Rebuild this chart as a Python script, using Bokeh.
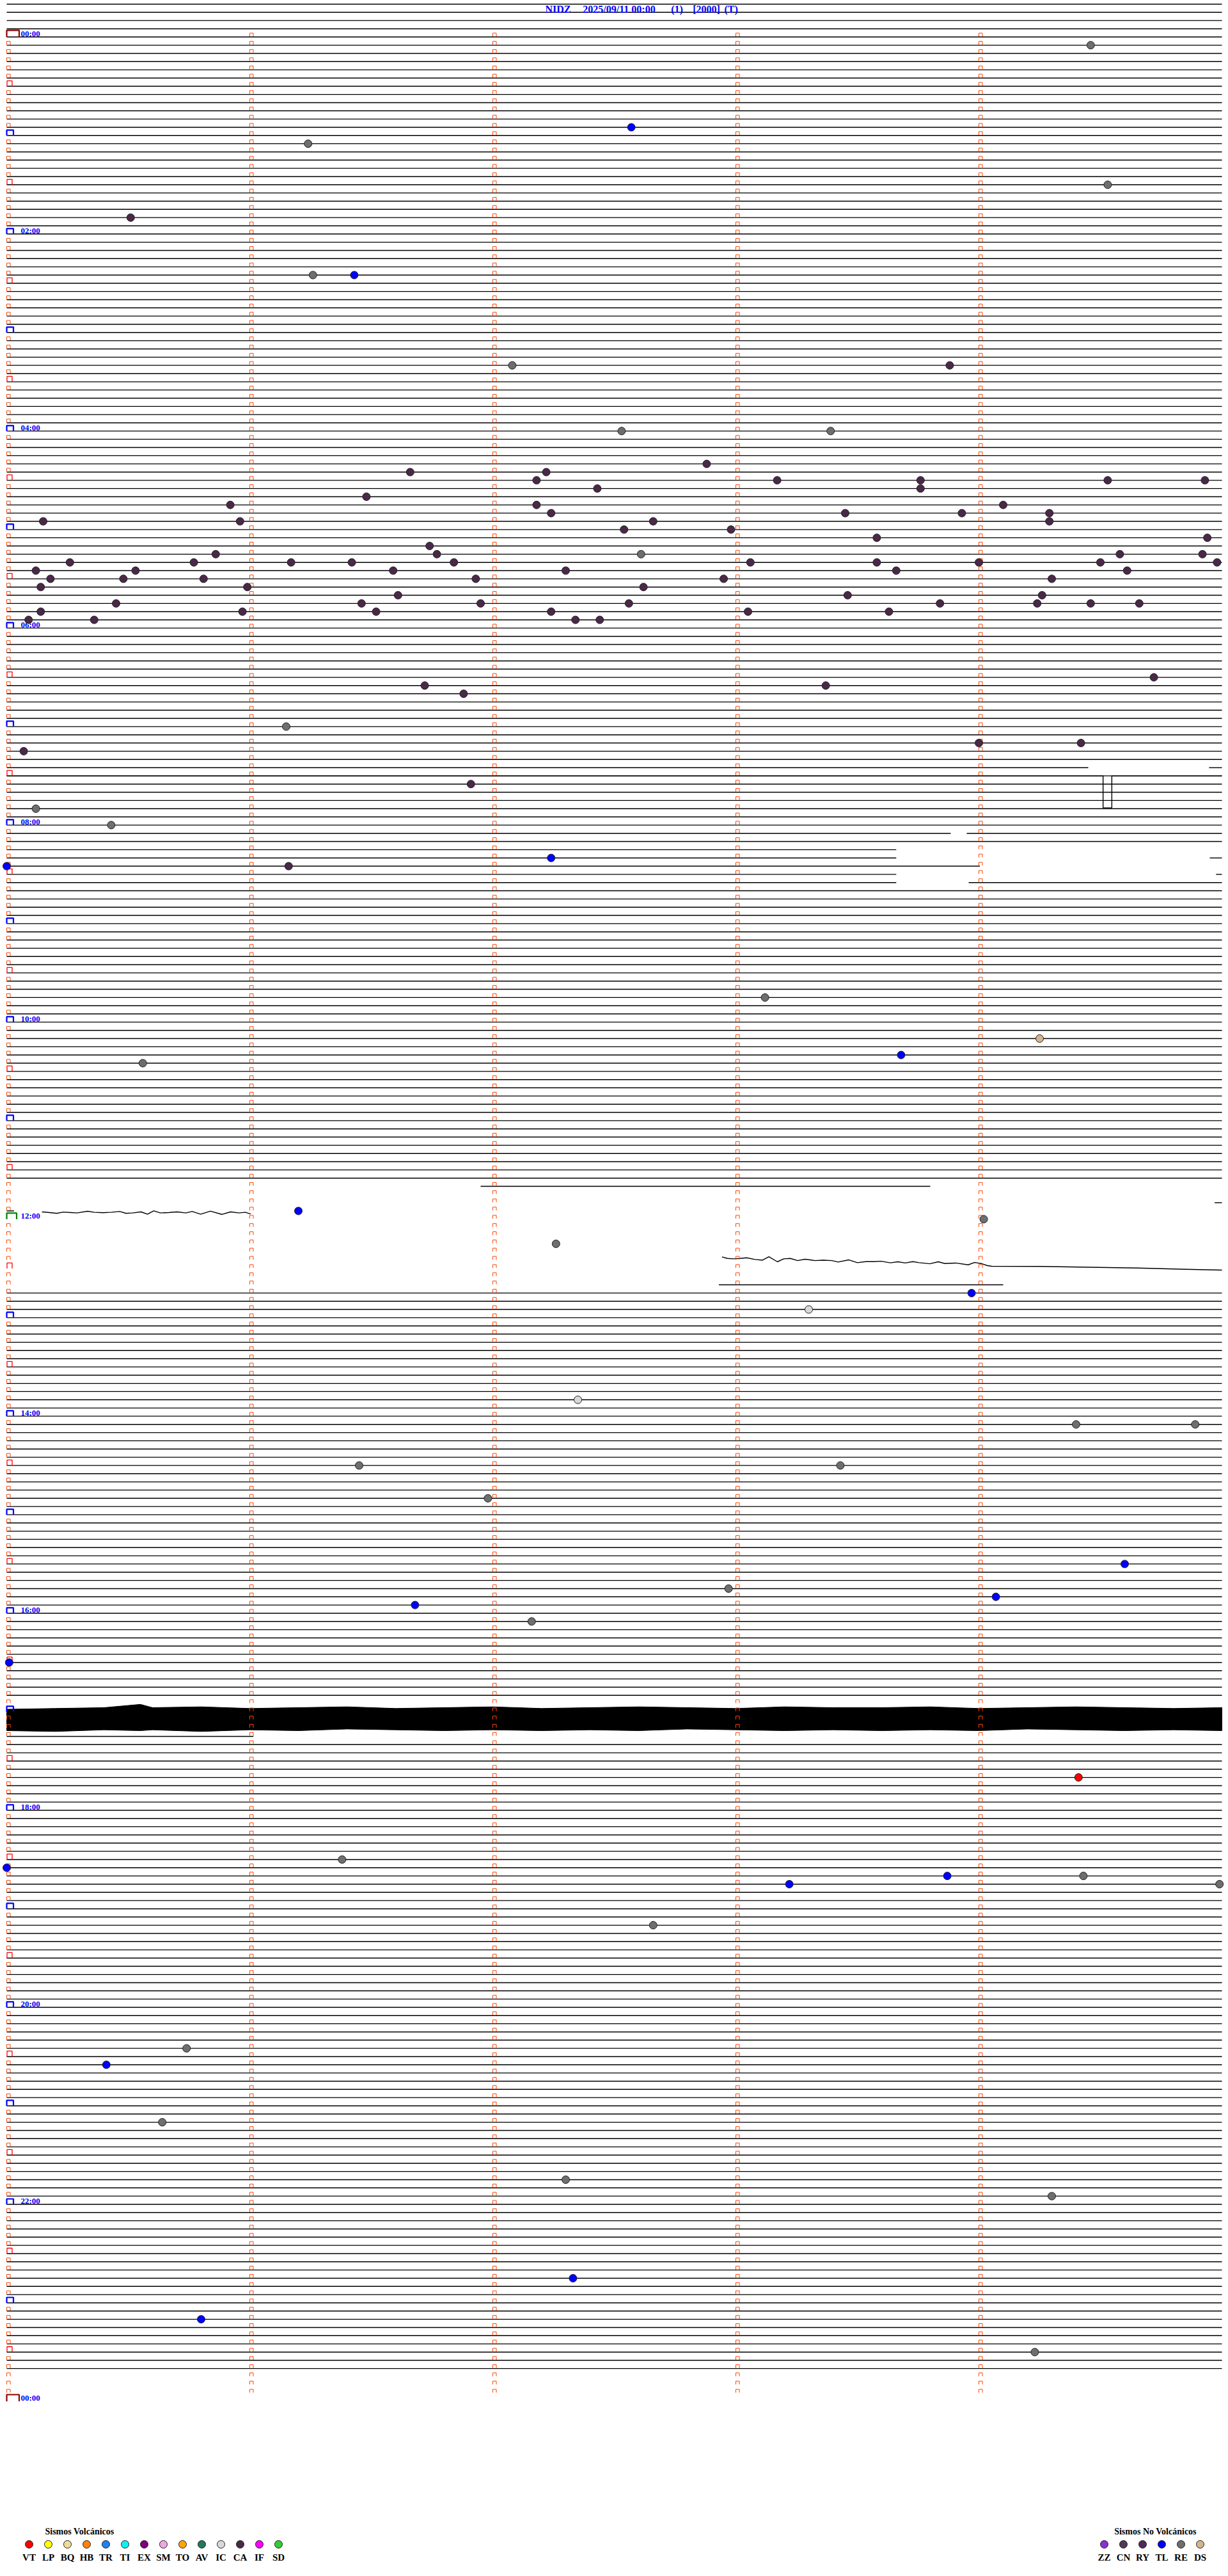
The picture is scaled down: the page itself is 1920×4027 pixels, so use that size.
import numpy as np
from bokeh.plotting import figure
from bokeh.models import Range1d, ColumnDataSource
from bokeh.embed import file_html
from bokeh.resources import INLINE
from bokeh.core.properties import value

# ---------------- data ----------------
title_parts = ["NIDZ", "2025/09/11 00:00", "(1)", "[2000]", "(T)"]
hour_labels = ["00:00", "02:00", "04:00", "06:00", "08:00", "10:00", "12:00",
               "14:00", "16:00", "18:00", "20:00", "22:00", "00:00"]

# trace rows (5-minute lines) that are drawn
trace_first_row, trace_last_row = -4, 284
# rows whose trace is only partly present: row -> [(start_min, end_min), ...]
trace_segments = {
    89: [(0.0, 4.45), (4.947, 5.0)],
    97: [(0.0, 3.884), (3.95, 5.0)],
    99: [(0.0, 3.66)],
    100: [(0.0, 3.66), (4.95, 5.0)],
    101: [(0.0, 4.004)],
    102: [(0.0, 3.66), (4.976, 5.0)],
    103: [(0.0, 3.66), (3.958, 5.0)],
    140: [(1.95, 3.8)],
    141: [], 142: [(4.97, 5.0)], 143: [(0.0, 0.03)], 144: [], 145: [], 146: [], 147: [],
    148: [], 149: [], 150: [], 151: [], 152: [(2.93, 4.1)],
    203: [], 204: [], 205: [], 206: [],
    207: [(0.0, 1.015)],
}
# step pulse on row 90
pulse_min = [0.0, 4.511, 4.511, 4.547, 4.547, 5.0]
pulse_row = [90.0, 90.0, 93.9, 93.9, 90.0, 90.0]

# drifting (offset) traces around 12:00
wave1_min = [0.145, 0.175, 0.206, 0.232, 0.263, 0.289, 0.333, 0.360, 0.395, 0.430,
             0.465, 0.491, 0.518, 0.553, 0.579, 0.605, 0.632, 0.667, 0.702, 0.737,
             0.763, 0.798, 0.838, 0.886, 0.921, 0.956, 0.982, 1.004]
wave1_row = [143.11, 143.19, 143.29, 143.14, 143.19, 143.24, 143.03, 143.16, 143.21, 143.16,
             143.06, 143.29, 143.24, 143.11, 143.40, 142.98, 143.24, 143.19, 143.11, 143.24,
             143.06, 143.40, 143.03, 143.42, 143.11, 143.24, 143.16, 143.37]
wave2_min = [2.943, 2.965, 2.991, 3.018, 3.044, 3.079, 3.110, 3.136, 3.171, 3.197, 3.224,
             3.254, 3.285, 3.325, 3.360, 3.395, 3.421, 3.465, 3.500, 3.535, 3.570, 3.597,
             3.636, 3.667, 3.697, 3.728, 3.754, 3.798, 3.833, 3.860, 3.904, 3.956, 3.982,
             4.009, 4.035, 4.053, 4.25, 4.45, 4.65, 4.85, 5.0]
wave2_row = [148.59, 148.78, 148.83, 148.78, 148.70, 148.91, 148.99, 148.57, 149.19, 148.83,
             148.78, 149.04, 148.88, 149.04, 148.99, 149.04, 149.22, 148.96, 149.30, 149.17,
             149.17, 149.12, 149.32, 149.19, 149.34, 149.17, 149.30, 149.43, 149.19, 149.40,
             149.34, 149.56, 149.27, 149.40, 149.66, 149.73, 149.75, 149.85, 149.95, 150.1, 150.2]

# noisy band around 17:00 (upper / lower envelope, rows)
band_min = [0.0, 0.2, 0.4, 0.55, 0.6, 0.8, 1.0, 1.2, 1.4, 1.6, 1.8, 2.0, 2.2, 2.4, 2.6,
            2.8, 3.0, 3.2, 3.4, 3.6, 3.8, 4.0, 4.2, 4.4, 4.6, 4.8, 5.0]
band_top = [203.7, 203.6, 203.5, 203.1, 203.5, 203.4, 203.6, 203.5, 203.4, 203.6, 203.5,
            203.4, 203.6, 203.5, 203.4, 203.5, 203.6, 203.4, 203.5, 203.5, 203.4, 203.6,
            203.5, 203.4, 203.5, 203.6, 203.5]
band_bot = [206.3, 206.4, 206.2, 206.3, 206.2, 206.4, 206.2, 206.3, 206.1, 206.2, 206.3,
            206.2, 206.3, 206.2, 206.3, 206.1, 206.2, 206.3, 206.2, 206.3, 206.2, 206.3,
            206.1, 206.2, 206.3, 206.2, 206.3]

# events: line index (5-min row), minute inside the line, type
ev_row = [1, 11, 13, 18, 22, 29, 29, 40, 40, 48, 48, 52, 53, 53, 54, 54, 54, 54, 54, 55,
          55, 56, 57, 57, 57, 58, 58, 58, 58, 59, 59, 59, 59, 60, 60, 61, 61, 62, 63, 63,
          63, 63, 63, 64, 64, 64, 64, 64, 64, 64, 64, 64, 64, 65, 65, 65, 65, 65, 65, 66,
          66, 66, 66, 66, 66, 67, 67, 67, 68, 68, 68, 69, 69, 69, 69, 69, 69, 69, 69, 70,
          70, 70, 70, 70, 70, 71, 71, 71, 71, 78, 79, 79, 80, 84, 86, 86, 87, 91, 94, 96,
          100, 101, 101, 117, 122, 124, 125, 143, 144, 147, 153, 155, 166, 169, 169, 174,
          174, 178, 186, 189, 190, 191, 193, 198, 212, 222, 223, 224, 224, 225, 225, 230,
          245, 247, 254, 261, 263, 273, 278, 282]
ev_min = [4.46, 2.57, 1.24, 4.53, 0.51, 1.26, 1.43, 2.08, 3.88, 2.53, 3.39, 2.88, 1.66,
          2.22, 2.18, 3.17, 3.76, 4.53, 4.93, 2.43, 3.76, 1.48, 0.92, 2.18, 4.10, 2.24,
          3.45, 3.93, 4.29, 0.15, 0.96, 2.66, 4.29, 2.54, 2.98, 3.58, 4.94, 1.74, 0.86,
          1.77, 2.61, 4.58, 4.92, 0.26, 0.77, 1.17, 1.42, 1.84, 3.06, 3.58, 4.00, 4.50,
          4.98, 0.12, 0.53, 1.59, 2.30, 3.66, 4.61, 0.18, 0.48, 0.81, 1.93, 2.95, 4.30,
          0.14, 0.99, 2.62, 1.61, 3.46, 4.26, 0.45, 1.46, 1.95, 2.56, 3.84, 4.24, 4.46,
          4.66, 0.14, 0.97, 1.52, 2.24, 3.05, 3.63, 0.09, 0.36, 2.34, 2.44, 4.72, 1.72,
          3.37, 1.88, 1.15, 4.00, 4.42, 0.07, 1.91, 0.12, 0.43, 2.24, 1.16, 0.00, 3.12,
          4.25, 3.68, 0.56, 1.20, 4.02, 2.26, 3.97, 3.30, 2.35, 4.40, 4.89, 1.45, 3.43,
          1.98, 4.60, 2.97, 4.07, 1.68, 2.16, 0.01, 4.41, 1.38, 0.00, 3.87, 4.43, 3.22,
          4.99, 2.66, 0.74, 0.41, 0.64, 2.30, 4.30, 2.33, 0.80, 4.23]
ev_type = (["RE", "TL", "RE", "RE", "CA", "RE", "TL", "RE", "CA", "RE", "RE"]
           + ["CA"] * 29 + ["RE"] + ["CA"] * 48
           + ["CA", "CA", "CA", "CA", "RE", "CA", "CA", "CA", "CA", "RE", "RE",
              "TL", "CA", "TL", "RE", "DS", "TL", "RE", "TL", "RE", "RE",
              "TL", "IC", "IC", "RE", "RE", "RE", "RE", "RE", "TL", "RE",
              "TL", "TL", "RE", "TL", "VT", "RE", "TL", "TL", "RE", "TL",
              "RE", "RE", "RE", "TL", "RE", "RE", "RE", "TL", "TL", "RE"])

volc_types = ["VT", "LP", "BQ", "HB", "TR", "TI", "EX", "SM", "TO", "AV", "IC", "CA", "IF", "SD"]
volc_colors = ["#FF0000", "#FFFF00", "#EEDC9A", "#FF8010", "#2080F0", "#10F0F0", "#800080",
               "#EEA8E0", "#FFA500", "#1F7A5A", "#D8D8D8", "#4A2848", "#FF00FF", "#33CC33"]
nonv_types = ["ZZ", "CN", "RY", "TL", "RE", "DS"]
nonv_colors = ["#8A30D0", "#503A58", "#4E2A58", "#0000FF", "#6E6E6E", "#D4B48C"]

# ---------------- layout (page pixels) ----------------
W, H = 1920, 4027
X0_PX, MIN_PX = 10.0, 380.0
Y0_PX, ROW_PX = 57.3, 12.834


def bx(px):
    return (px - X0_PX) / MIN_PX


def by(py):
    return (py - Y0_PX) / ROW_PX


DX = 1.0 / MIN_PX
DY = 1.0 / ROW_PX

p = figure(width=W, height=H, x_range=Range1d(bx(0), bx(W)),
           y_range=Range1d(by(H), by(0)), x_axis_type=None, y_axis_type=None,
           output_backend="svg", toolbar_location=None, min_border=0,
           outline_line_color=None, background_fill_color="white")
p.grid.visible = False

# ---- traces ----
txs, tys = [], []
for r in range(trace_first_row, trace_last_row + 1):
    segs = trace_segments.get(r, [(0.0, 5.0)])
    for a, b in segs:
        txs.append([a, b])
        tys.append([r, r])
txs.append(pulse_min); tys.append(pulse_row)
txs.append(wave1_min); tys.append(wave1_row)
txs.append(wave2_min); tys.append(wave2_row)
p.multi_line(txs, tys, line_color="black", line_width=1.4)

p.patch(band_min + band_min[::-1], band_top + band_bot[::-1],
        fill_color="black", line_color="black", line_width=1)

# ---- minute markers & hour brackets ----
mk_x, mk_y = [], []
for r in range(0, 288):
    for k in range(5):
        if k == 0 and r % 6 == 0:
            continue
        mk_x.append([k, k, k + 5.5 * DX, k + 5.5 * DX])
        mk_y.append([r - 0.8 * DY, r - 6 * DY, r - 6 * DY, r - 0.8 * DY])
p.multi_line(mk_x, mk_y, line_color="#FF4500", line_width=1)

half_x, half_y, hour_x, hour_y = [], [], [], []
for r in range(6, 288, 12):
    half_x.append([bx(10.5), bx(10.5), bx(18.5), bx(18.5)])
    half_y.append([r, r - 8.5 * DY, r - 8.5 * DY, r])
for r in range(12, 288, 12):
    if r == 144:
        continue
    hour_x.append([bx(10), bx(10), bx(20.5), bx(20.5)])
    hour_y.append([r, r - 8.5 * DY, r - 8.5 * DY, r])
p.multi_line(half_x, half_y, line_color="#FF0000", line_width=1.3)
p.multi_line(hour_x, hour_y, line_color="#0000FF", line_width=2.2)
p.multi_line([[bx(10), bx(10), bx(25.5), bx(25.5)]], [[144, 144 - 9.5 * DY, 144 - 9.5 * DY, 144]],
             line_color="#008000", line_width=2.2)
mid_x = [[bx(10), bx(10), bx(29.5), bx(29.5)]] * 2
mid_y = [[r, r - 10.5 * DY, r - 10.5 * DY, r] for r in (0, 288)]
p.multi_line(mid_x, mid_y, line_color="#8B0000", line_width=2.2)

# ---- hour labels ----
p.text(x=[bx(32)] * len(hour_labels), y=[r - 5.6 * DY for r in range(0, 289, 24)],
       text=hour_labels, text_font=value("Liberation Serif"), text_font_style="bold",
       text_font_size="13px", text_color="#0000FF", text_baseline="middle", text_align="left")

# ---- title ----
title_cx = [872, 967.5, 1058, 1104, 1142.6]
p.text(x=[bx(c) for c in title_cx], y=[by(14)] * len(title_parts), text=title_parts,
       text_font=value("Liberation Serif"), text_font_style="bold", text_font_size="16px",
       text_color="#0000FF", text_baseline="middle", text_align="center")

# ---- events ----
all_types = volc_types + nonv_types
all_colors = volc_colors + nonv_colors
cmap = dict(zip(all_types, all_colors))
src = ColumnDataSource(dict(x=ev_min, y=ev_row, c=[cmap[t] for t in ev_type]))
p.scatter("x", "y", source=src, size=12, fill_color="c", line_color="#202020", line_width=1)

# ---- legends ----
lx = [bx(45 + 30 * i) for i in range(len(volc_types))]
p.scatter(lx, [by(3977)] * len(lx), size=12, fill_color=volc_colors, line_color="#202020", line_width=1)
p.text(x=lx, y=[by(3997)] * len(lx), text=volc_types, text_font=value("Liberation Serif"),
       text_font_style="bold", text_font_size="15px", text_color="black",
       text_align="center", text_baseline="middle")
p.text(x=[bx(124)], y=[by(3957)], text=["Sismos Volcánicos"], text_font=value("Liberation Serif"),
       text_font_style="bold", text_font_size="14px", text_color="black",
       text_align="center", text_baseline="middle")
nx = [bx(1726 + 30 * i) for i in range(len(nonv_types))]
p.scatter(nx, [by(3977)] * len(nx), size=12, fill_color=nonv_colors, line_color="#202020", line_width=1)
p.text(x=nx, y=[by(3997)] * len(nx), text=nonv_types, text_font=value("Liberation Serif"),
       text_font_style="bold", text_font_size="15px", text_color="black",
       text_align="center", text_baseline="middle")
p.text(x=[bx(1806)], y=[by(3957)], text=["Sismos No Volcánicos"], text_font=value("Liberation Serif"),
       text_font_style="bold", text_font_size="14px", text_color="black",
       text_align="center", text_baseline="middle")

open("out.html", "w").write(file_html(p, INLINE))
